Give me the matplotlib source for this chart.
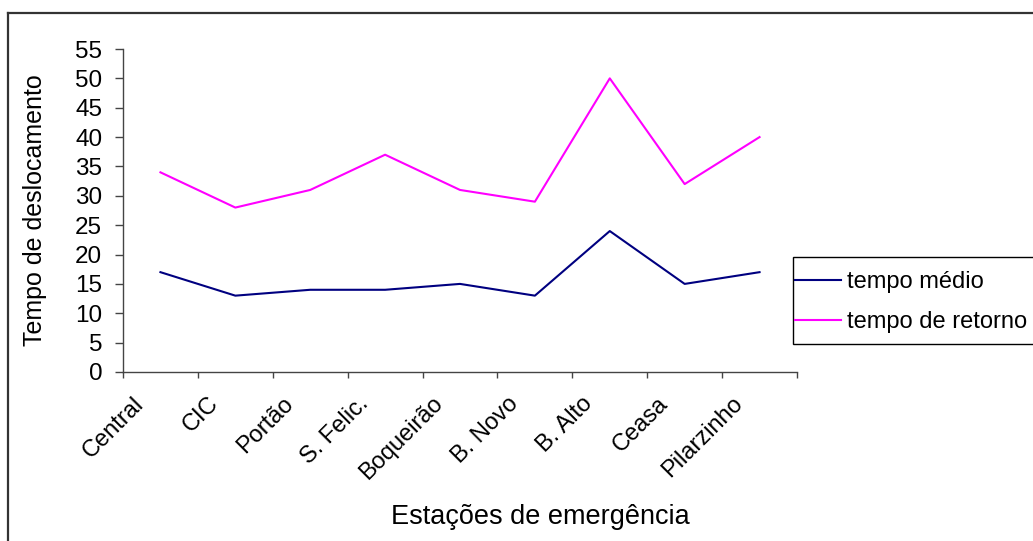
import matplotlib
matplotlib.use('Agg')
import matplotlib.pyplot as plt
from matplotlib.lines import Line2D
from matplotlib.patches import Rectangle
from matplotlib.transforms import ScaledTranslation
import numpy as np

# station names and times
estacoes = ['Central', 'CIC', 'Portão', 'S. Felic.', 'Boqueirão',
            'B. Novo', 'B. Alto', 'Ceasa', 'Pilarzinho']
tempo_medio = [17, 13, 14, 14, 15, 13, 24, 15, 17]
tempo_retorno = [34, 28, 31, 37, 31, 29, 50, 32, 40]
yticks = list(range(0, 60, 5))

plt.rcParams['font.family'] = ['Liberation Sans', 'DejaVu Sans']

W, H = 1033, 541
fig = plt.figure(figsize=(W / 100, H / 100), dpi=100)

# outer chart frame (only left and top edges visible)
fig.add_artist(Line2D([8 / W, 8 / W], [0, 1 - 13 / H], color='#333333', lw=1.6,
                      transform=fig.transFigure))
fig.add_artist(Line2D([8 / W, 1], [1 - 13 / H, 1 - 13 / H], color='#333333', lw=1.6,
                      transform=fig.transFigure))

ax = fig.add_axes([123 / W, 1 - 372 / H, (797 - 123) / W, (372 - 49) / H])
x = np.arange(len(estacoes))
ax.plot(x, tempo_medio, color='#000080', lw=1.5, label='tempo médio')
ax.plot(x, tempo_retorno, color='#FF00FF', lw=1.5, label='tempo de retorno')

ax.set_xlim(-0.5, len(estacoes) - 0.5)
ax.set_ylim(0, 55)
ax.set_yticks(yticks)
ax.set_xticks(x)
ax.set_xticklabels(estacoes, rotation=45, ha='right', va='top', rotation_mode='anchor')
ax.set_xticks(np.arange(-0.5, len(estacoes)), minor=True)
ax.tick_params(axis='x', which='major', length=0, pad=15, labelsize=17)
ax.tick_params(axis='x', which='minor', length=4.5, color='#444444', width=1)
ax.tick_params(axis='y', length=6, color='#444444', width=1, labelsize=17.5, pad=9)

# shift the rotated labels left, as in the original
shift = ScaledTranslation(-0.28, 0, fig.dpi_scale_trans)
for lab in ax.get_xticklabels():
    lab.set_transform(lab.get_transform() + shift)

for s in ['top', 'right']:
    ax.spines[s].set_visible(False)
for s in ['left', 'bottom']:
    ax.spines[s].set_color('#444444')
    ax.spines[s].set_linewidth(1)

ax.set_ylabel('Tempo de deslocamento', fontsize=18, va='center')
ax.yaxis.set_label_coords(-0.13, 0.5)
ax.set_xlabel('Estações de emergência', fontsize=19.5, va='center')
ax.xaxis.set_label_coords(0.619, -0.449)

# legend frame drawn separately, legend itself without frame
fig.add_artist(Rectangle((793 / W, 1 - 344 / H), (1045 - 793) / W, 87 / H,
                         transform=fig.transFigure, fill=True, facecolor='white',
                         edgecolor='black', lw=1))
fig.legend(loc='upper left', bbox_to_anchor=(795 / W, 1 - 271 / H),
           fontsize=17, frameon=False, borderaxespad=0, borderpad=0,
           handlelength=1.95, handletextpad=0.25, labelspacing=0.78)

fig.savefig('out.png', dpi=100)
